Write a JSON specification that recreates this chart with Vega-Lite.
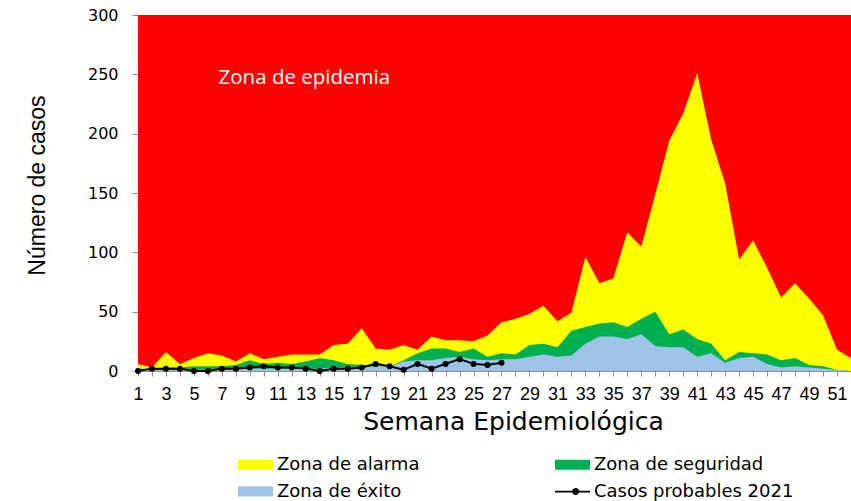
{
  "$schema": "https://vega.github.io/schema/vega-lite/v6.json",
  "width": 713,
  "height": 356,
  "autosize": {"type": "none"},
  "padding": {"left": 138, "top": 15, "right": 0, "bottom": 130},
  "background": "white",
  "config": {
    "view": {"stroke": null},
    "axisX": {
      "tickCount": 52,
      "labelExpr": "datum.value % 2 == 1 ? datum.label : ''",
      "labelFont": "Liberation Sans", "labelFontSize": 18, "labelColor": "#000000",
      "labelPadding": 9, "labelOverlap": false, "labelFlush": false, "labelBound": false,
      "tickSize": 5, "tickColor": "#8C8C8C", "domainColor": "#8C8C8C", "grid": false,
      "titleFont": "DejaVu Sans", "titleFontSize": 25, "titleFontWeight": "normal", "titleColor": "#000000",
      "titleX": 375, "titleY": 50, "titleAlign": "center", "titleBaseline": "middle"
    },
    "axisY": {
      "tickCount": 6,
      "labelFont": "DejaVu Sans", "labelFontSize": 16, "labelColor": "#000000",
      "labelPadding": 14, "tickSize": 6, "tickColor": "#8C8C8C", "domainColor": "#8C8C8C", "grid": false,
      "titleFont": "Liberation Sans", "titleFontSize": 23, "titleFontWeight": "normal", "titleColor": "#000000",
      "titleX": -101, "titleY": 170, "titleAlign": "center", "titleBaseline": "middle", "titleAngle": -90
    }
  },
  "data": {"values": [
    {"week": 1, "B": 1, "G": 2, "Y": 6, "L": 0},
    {"week": 2, "B": 1, "G": 2, "Y": 3, "L": 2},
    {"week": 3, "B": 1, "G": 3, "Y": 16, "L": 2},
    {"week": 4, "B": 1, "G": 3, "Y": 6, "L": 2},
    {"week": 5, "B": 1, "G": 4, "Y": 11, "L": 0},
    {"week": 6, "B": 1, "G": 4, "Y": 15, "L": 0},
    {"week": 7, "B": 2, "G": 4, "Y": 13, "L": 2},
    {"week": 8, "B": 2, "G": 5, "Y": 8, "L": 2},
    {"week": 9, "B": 2, "G": 9, "Y": 15, "L": 3},
    {"week": 10, "B": 2, "G": 6, "Y": 10, "L": 4},
    {"week": 11, "B": 2, "G": 7, "Y": 12, "L": 3},
    {"week": 12, "B": 2, "G": 6, "Y": 14, "L": 3},
    {"week": 13, "B": 2, "G": 8, "Y": 14, "L": 2},
    {"week": 14, "B": 2, "G": 11, "Y": 14, "L": 0},
    {"week": 15, "B": 3, "G": 9, "Y": 22, "L": 2},
    {"week": 16, "B": 3, "G": 6, "Y": 23, "L": 2},
    {"week": 17, "B": 3, "G": 5, "Y": 36, "L": 3},
    {"week": 18, "B": 4, "G": 5, "Y": 19, "L": 6},
    {"week": 19, "B": 4, "G": 4, "Y": 18, "L": 4},
    {"week": 20, "B": 8, "G": 9, "Y": 22, "L": 1},
    {"week": 21, "B": 9, "G": 15, "Y": 18, "L": 6},
    {"week": 22, "B": 9, "G": 19, "Y": 29, "L": 2},
    {"week": 23, "B": 11, "G": 19, "Y": 26, "L": 6},
    {"week": 24, "B": 12, "G": 16, "Y": 26, "L": 10},
    {"week": 25, "B": 10, "G": 19, "Y": 25, "L": 6},
    {"week": 26, "B": 9, "G": 12, "Y": 30, "L": 5},
    {"week": 27, "B": 10, "G": 15, "Y": 41, "L": 7},
    {"week": 28, "B": 10, "G": 14, "Y": 44},
    {"week": 29, "B": 12, "G": 22, "Y": 48},
    {"week": 30, "B": 14, "G": 23, "Y": 55},
    {"week": 31, "B": 12, "G": 20, "Y": 42},
    {"week": 32, "B": 13, "G": 34, "Y": 49},
    {"week": 33, "B": 23, "G": 37, "Y": 96},
    {"week": 34, "B": 29, "G": 40, "Y": 74},
    {"week": 35, "B": 29, "G": 41, "Y": 78},
    {"week": 36, "B": 27, "G": 37, "Y": 117},
    {"week": 37, "B": 31, "G": 44, "Y": 105},
    {"week": 38, "B": 21, "G": 50, "Y": 149},
    {"week": 39, "B": 20, "G": 31, "Y": 194},
    {"week": 40, "B": 20, "G": 35, "Y": 217},
    {"week": 41, "B": 12, "G": 27, "Y": 251},
    {"week": 42, "B": 15, "G": 23, "Y": 195},
    {"week": 43, "B": 7, "G": 9, "Y": 158},
    {"week": 44, "B": 11, "G": 16, "Y": 94},
    {"week": 45, "B": 12, "G": 15, "Y": 110},
    {"week": 46, "B": 6, "G": 14, "Y": 87},
    {"week": 47, "B": 3, "G": 9, "Y": 62},
    {"week": 48, "B": 4, "G": 11, "Y": 74},
    {"week": 49, "B": 3, "G": 5, "Y": 61},
    {"week": 50, "B": 2, "G": 4, "Y": 47},
    {"week": 51, "B": 1, "G": 1, "Y": 18},
    {"week": 52, "B": 0, "G": 0, "Y": 11}
  ]},
  "layer": [
    {
      "mark": {"type": "area", "color": "#FF0000"},
      "encoding": {
        "x": {"field": "week", "type": "quantitative", "title": "Semana Epidemiológica",
              "scale": {"domain": [1, 52], "nice": false, "zero": false}},
        "y": {"datum": 300, "type": "quantitative", "title": "Número de casos",
              "scale": {"domain": [0, 300], "nice": false}}
      }
    },
    {
      "mark": {"type": "area"},
      "encoding": {
        "x": {"field": "week", "type": "quantitative", "title": "Semana Epidemiológica"},
        "y": {"field": "Y", "type": "quantitative", "title": "Número de casos"},
        "color": {
          "datum": "Zona de alarma",
          "scale": {
            "domain": ["Zona de alarma", "Zona de seguridad", "Zona de éxito", "Casos probables 2021"],
            "range": ["#FFFF00", "#00B050", "#9DC3E6", "#000000"]
          },
          "legend": {
            "title": null, "orient": "none", "legendX": 100, "legendY": 432,
            "direction": "horizontal", "columns": 2, "columnPadding": 135, "rowPadding": -9,
            "symbolSize": 1225, "labelOffset": 4, "labelLimit": 400,
            "labelFont": "DejaVu Sans", "labelFontSize": 18, "labelColor": "#000000",
            "symbolOpacity": 1, "symbolStrokeWidth": 0,
            "encode": {
              "symbols": {
                "update": {
                  "shape": {"signal": "datum.value === 'Casos probables 2021' ? 'M-1,-0.05H1V0.05H-1Z M0.38,0A0.2,0.2,0,1,1,-0.02,0A0.2,0.2,0,1,1,0.38,0Z' : 'M-1,-0.29H1V0.29H-1Z'"},
                  "fill": {"signal": "scale('color', datum.value)"},
                  "stroke": {"value": "transparent"},
                  "strokeWidth": {"value": 0},
                  "opacity": {"value": 1}
                }
              }
            }
          }
        }
      }
    },
    {
      "mark": {"type": "area"},
      "encoding": {
        "x": {"field": "week", "type": "quantitative", "title": "Semana Epidemiológica"},
        "y": {"field": "G", "type": "quantitative", "title": "Número de casos"},
        "color": {"datum": "Zona de seguridad"}
      }
    },
    {
      "mark": {"type": "area"},
      "encoding": {
        "x": {"field": "week", "type": "quantitative", "title": "Semana Epidemiológica"},
        "y": {"field": "B", "type": "quantitative", "title": "Número de casos"},
        "color": {"datum": "Zona de éxito"}
      }
    },
    {
      "transform": [{"filter": "isValid(datum.L)"}],
      "mark": {"type": "line", "strokeWidth": 2},
      "encoding": {
        "x": {"field": "week", "type": "quantitative", "title": "Semana Epidemiológica"},
        "y": {"field": "L", "type": "quantitative", "title": "Número de casos"},
        "color": {"datum": "Casos probables 2021"}
      }
    },
    {
      "transform": [{"filter": "isValid(datum.L)"}],
      "mark": {"type": "point", "filled": true, "size": 36, "opacity": 1},
      "encoding": {
        "x": {"field": "week", "type": "quantitative", "title": "Semana Epidemiológica"},
        "y": {"field": "L", "type": "quantitative", "title": "Número de casos"},
        "color": {"datum": "Casos probables 2021"}
      }
    },
    {
      "data": {"values": [{"week": 6.76, "v": 247, "t": "Zona de epidemia"}]},
      "mark": {"type": "text", "align": "left", "baseline": "middle", "font": "Open Sans", "fontSize": 20.5, "color": "#FFFFFF"},
      "encoding": {
        "x": {"field": "week", "type": "quantitative", "title": "Semana Epidemiológica"},
        "y": {"field": "v", "type": "quantitative", "title": "Número de casos"},
        "text": {"field": "t"}
      }
    }
  ]
}
